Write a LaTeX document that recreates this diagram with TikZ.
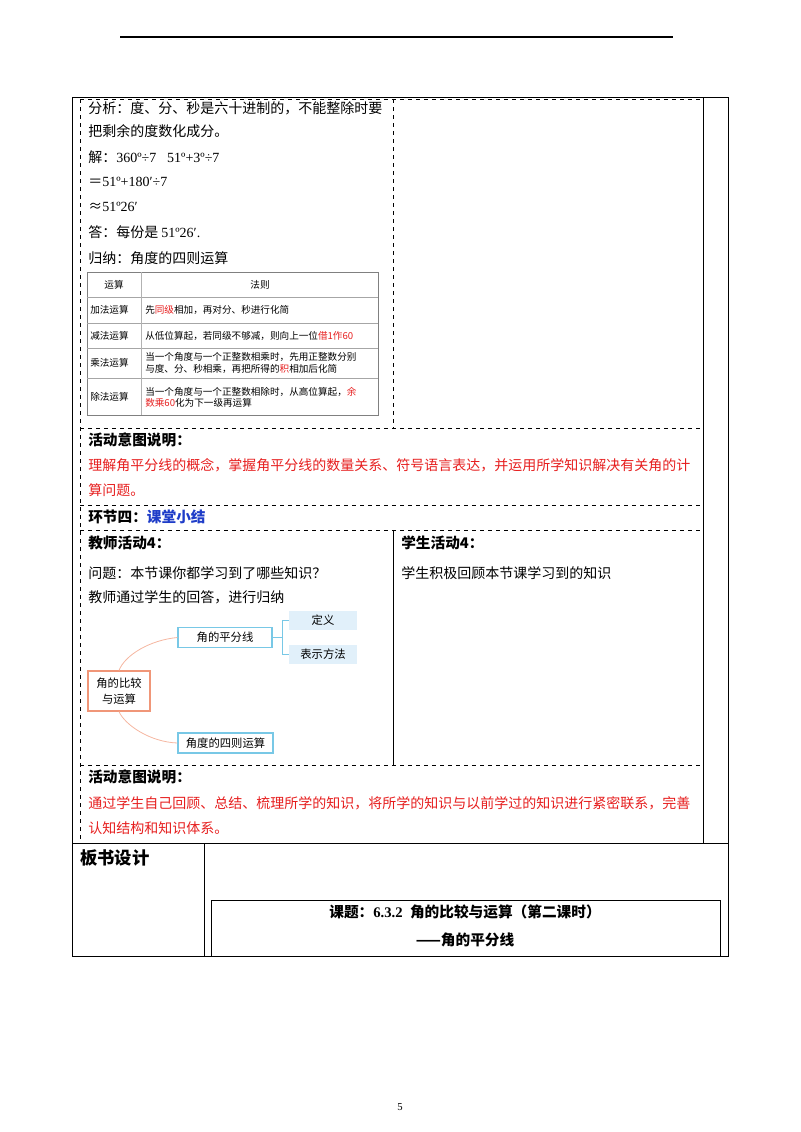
\documentclass[tikz,border=0pt]{standalone}
\usepackage{fontspec}
\setmainfont{Liberation Serif}
\newfontfamily\cjk{Noto Sans CJK SC}
\definecolor{rd}{RGB}{230,30,30}
\definecolor{bl}{RGB}{30,60,200}
\definecolor{orb}{RGB}{240,150,120}
\definecolor{blb}{RGB}{120,200,230}
\definecolor{lbf}{RGB}{225,240,250}
\begin{document}
\begin{tikzpicture}[x=0.75pt,y=-0.75pt,
 t/.style={anchor=west,inner sep=0,font=\cjk\fontsize{10.5}{12}\selectfont},
 tb/.style={t,font=\cjk\bfseries\fontsize{11}{12}\selectfont},
 s/.style={anchor=west,inner sep=0,font=\cjk\fontsize{7.2}{8.5}\selectfont,align=left},
 dl/.style={dashed,line width=0.6pt},
 sl/.style={line width=0.6pt},
 mm/.style={draw=blb,fill=white,minimum height=20*0.75pt,inner sep=1pt,font=\cjk\fontsize{8.5}{10}\selectfont,line width=0.8pt},
 lf/.style={fill=lbf,minimum height=19*0.75pt,inner sep=1pt,font=\cjk\fontsize{8.5}{10}\selectfont}]
\useasboundingbox (0,0) rectangle (800,1132);
\draw[line width=0.8pt] (120,37) -- (673,37);
\node[font=\fontsize{8}{9}\selectfont] (pg) at (400,1107) {5};
% outer frame
\draw[sl] (72,97) -- (728,97) -- (728,956) -- (72,956) -- cycle;
\draw[sl] (703,97) -- (703,843);
\draw[sl] (72,843) -- (728,843);
\draw[sl] (204,843) -- (204,956);
\draw[sl] (211,900) rectangle (720,956);
% dashed inner
\draw[dl] (80,99) -- (80,843);
\draw[dl] (80,99) -- (703,99);
\draw[dl] (393,99) -- (393,428);
\foreach \yy in {428,505,530,765}{\draw[dl] (80,\yy) -- (703,\yy);}
\draw[sl] (393,530) -- (393,765);
% top left text
\node[t] (a1) at (88,108) {分析：度、分、秒是六十进制的，不能整除时要};
\node[t] (a2) at (88,131) {把剩余的度数化成分。};
\node[t] (a3) at (88,157) {解：\fontspec{Liberation Serif}360º÷7＝51º+3º÷7};
\node[t] (a4) at (88,182) {＝\fontspec{Liberation Serif}51º+180′÷7};
\node[t] (a5) at (88,207) {≈\fontspec{Liberation Serif}51º26′};
\node[t] (a6) at (88,232) {答：每份是 \fontspec{Liberation Serif}51º26′.};
\node[t] (a7) at (88,258) {归纳：角度的四则运算};
% small table
\draw[gray,line width=0.6pt] (87,272) rectangle (378,415);
\foreach \yy in {297,323,348,378}{\draw[gray!70,line width=0.6pt] (87,\yy) -- (378,\yy);}
\draw[gray!60,line width=0.4pt] (141,272) -- (141,415);
\node[s,anchor=center] (h1) at (114,285) {运算};
\node[s,anchor=center] (h2) at (260,285) {法则};
\node[s] (r1) at (90,310) {加法运算};
\node[s] (r2) at (90,336) {减法运算};
\node[s] (r3) at (90,363) {乘法运算};
\node[s] (r4) at (90,397) {除法运算};
\node[s] (c1) at (145,310) {先\textcolor{rd}{同级}相加，再对分、秒进行化简};
\node[s] (c2) at (145,336) {从低位算起，若同级不够减，则向上一位\textcolor{rd}{借1作60}};
\node[s] (c3) at (145,363) {当一个角度与一个正整数相乘时，先用正整数分别\\与度、分、秒相乘，再把所得的\textcolor{rd}{积}相加后化简};
\node[s] (c4) at (145,397) {当一个角度与一个正整数相除时，从高位算起，\textcolor{rd}{余}\\\textcolor{rd}{数乘60}化为下一级再运算};
% intent
\node[tb] (i1) at (88,440) {活动意图说明：};
\node[t,text=rd] (i2) at (88,465) {理解角平分线的概念，掌握角平分线的数量关系、符号语言表达，并运用所学知识解决有关角的计};
\node[t,text=rd] (i3) at (88,490) {算问题。};
\node[tb] (h4) at (88,517) {环节四：\textcolor{bl}{课堂小结}};
\node[tb] (ta) at (88,543) {教师活动4：};
\node[tb] (sa) at (401,543) {学生活动4：};
\node[t] (q1) at (88,573) {问题：本节课你都学习到了哪些知识？};
\node[t] (q2) at (88,597) {教师通过学生的回答，进行归纳};
\node[t] (s1) at (401,573) {学生积极回顾本节课学习到的知识};
% mind map
\node[draw=orb,fill=white,line width=0.9pt,minimum width=62*0.75pt,minimum height=40*0.75pt,inner sep=1pt,align=center,font=\cjk\fontsize{8.5}{12}\selectfont] (root) at (119,691) {角的比较\\与运算};
\node[mm,minimum width=94*0.75pt] (b1) at (225,637.5) {角的平分线};
\node[mm,minimum width=95*0.75pt] (b2) at (225.5,743) {角度的四则运算};
\node[lf,minimum width=68*0.75pt] (l1) at (323,620.5) {定义};
\node[lf,minimum width=68*0.75pt] (l2) at (323,654.5) {表示方法};
\draw[orb!70,line width=0.6pt] (root.north) .. controls (125,655) and (150,640) .. (b1.west);
\draw[orb!70,line width=0.6pt] (root.south) .. controls (125,725) and (150,742) .. (b2.west);
\coordinate (br) at (282,637.5);
\draw[blb,line width=0.7pt] (b1.east) -- (br);
\draw[blb,line width=0.7pt] (l1.west) -- (282,620.5) -- (282,654.5) -- (l2.west);
% second intent
\node[tb] (i4) at (88,777) {活动意图说明：};
\node[t,text=rd] (i5) at (88,803) {通过学生自己回顾、总结、梳理所学的知识，将所学的知识与以前学过的知识进行紧密联系，完善};
\node[t,text=rd] (i6) at (88,828) {认知结构和知识体系。};
% board
\node[tb,font=\cjk\bfseries\fontsize{13}{14}\selectfont] (bs) at (80,858) {板书设计};
\node[tb,anchor=center] (k1) at (465,912) {课题：\fontspec{Liberation Serif}\bfseries 6.3.2\ \ \cjk\bfseries 角的比较与运算（第二课时）};
\node[tb,anchor=center] (k2) at (465,940) {——角的平分线};
\end{tikzpicture}
\end{document}
